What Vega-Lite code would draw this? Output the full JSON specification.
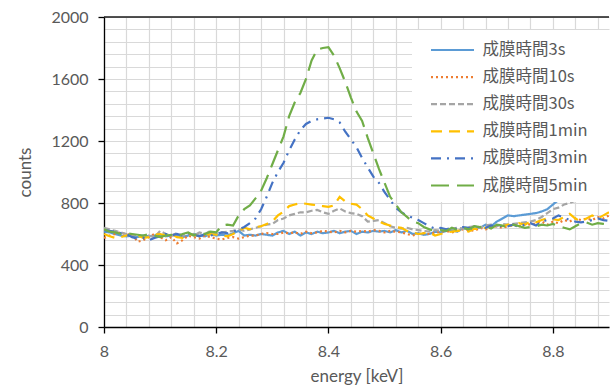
{
  "$schema": "https://vega.github.io/schema/vega-lite/v6.json",
  "width": 505,
  "height": 310,
  "autosize": {"type": "none"},
  "padding": {"left": 104, "top": 17, "right": 4, "bottom": 58},
  "background": "white",
  "config": {"view": {"stroke": null}, "font": "Lato"},
  "datasets": {
    "spectra": [
      {"e":8.00,"成膜時間3s":615,"成膜時間10s":575,"成膜時間30s":640,"成膜時間1min":600,"成膜時間3min":625,"成膜時間5min":630},
      {"e":8.01,"成膜時間3s":610,"成膜時間10s":590,"成膜時間30s":630,"成膜時間1min":585,"成膜時間3min":620,"成膜時間5min":615},
      {"e":8.02,"成膜時間3s":600,"成膜時間10s":600,"成膜時間30s":620,"成膜時間1min":575,"成膜時間3min":615,"成膜時間5min":610},
      {"e":8.03,"成膜時間3s":590,"成膜時間10s":610,"成膜時間30s":610,"成膜時間1min":580,"成膜時間3min":605,"成膜時間5min":600},
      {"e":8.04,"成膜時間3s":585,"成膜時間10s":595,"成膜時間30s":600,"成膜時間1min":590,"成膜時間3min":600,"成膜時間5min":605},
      {"e":8.05,"成膜時間3s":590,"成膜時間10s":600,"成膜時間30s":595,"成膜時間1min":600,"成膜時間3min":580,"成膜時間5min":600},
      {"e":8.06,"成膜時間3s":580,"成膜時間10s":550,"成膜時間30s":590,"成膜時間1min":590,"成膜時間3min":570,"成膜時間5min":595},
      {"e":8.07,"成膜時間3s":590,"成膜時間10s":560,"成膜時間30s":585,"成膜時間1min":575,"成膜時間3min":575,"成膜時間5min":590},
      {"e":8.08,"成膜時間3s":585,"成膜時間10s":580,"成膜時間30s":590,"成膜時間1min":580,"成膜時間3min":560,"成膜時間5min":600},
      {"e":8.09,"成膜時間3s":590,"成膜時間10s":600,"成膜時間30s":580,"成膜時間1min":595,"成膜時間3min":575,"成膜時間5min":590},
      {"e":8.10,"成膜時間3s":595,"成膜時間10s":580,"成膜時間30s":620,"成膜時間1min":600,"成膜時間3min":585,"成膜時間5min":580},
      {"e":8.11,"成膜時間3s":585,"成膜時間10s":560,"成膜時間30s":600,"成膜時間1min":590,"成膜時間3min":600,"成膜時間5min":590},
      {"e":8.12,"成膜時間3s":590,"成膜時間10s":580,"成膜時間30s":590,"成膜時間1min":600,"成膜時間3min":590,"成膜時間5min":595},
      {"e":8.13,"成膜時間3s":595,"成膜時間10s":540,"成膜時間30s":605,"成膜時間1min":580,"成膜時間3min":600,"成膜時間5min":585},
      {"e":8.14,"成膜時間3s":580,"成膜時間10s":560,"成膜時間30s":590,"成膜時間1min":575,"成膜時間3min":590,"成膜時間5min":600},
      {"e":8.15,"成膜時間3s":590,"成膜時間10s":590,"成膜時間30s":600,"成膜時間1min":600,"成膜時間3min":605,"成膜時間5min":610},
      {"e":8.16,"成膜時間3s":600,"成膜時間10s":580,"成膜時間30s":590,"成膜時間1min":595,"成膜時間3min":595,"成膜時間5min":590},
      {"e":8.17,"成膜時間3s":590,"成膜時間10s":570,"成膜時間30s":610,"成膜時間1min":585,"成膜時間3min":585,"成膜時間5min":610},
      {"e":8.18,"成膜時間3s":585,"成膜時間10s":590,"成膜時間30s":600,"成膜時間1min":595,"成膜時間3min":600,"成膜時間5min":600},
      {"e":8.19,"成膜時間3s":600,"成膜時間10s":580,"成膜時間30s":620,"成膜時間1min":600,"成膜時間3min":590,"成膜時間5min":615},
      {"e":8.20,"成膜時間3s":590,"成膜時間10s":570,"成膜時間30s":600,"成膜時間1min":595,"成膜時間3min":600,"成膜時間5min":610},
      {"e":8.21,"成膜時間3s":595,"成膜時間10s":565,"成膜時間30s":610,"成膜時間1min":590,"成膜時間3min":610,"成膜時間5min":655},
      {"e":8.22,"成膜時間3s":590,"成膜時間10s":575,"成膜時間30s":615,"成膜時間1min":585,"成膜時間3min":605,"成膜時間5min":660},
      {"e":8.23,"成膜時間3s":605,"成膜時間10s":580,"成膜時間30s":620,"成膜時間1min":600,"成膜時間3min":615,"成膜時間5min":655},
      {"e":8.24,"成膜時間3s":620,"成膜時間10s":570,"成膜時間30s":630,"成膜時間1min":620,"成膜時間3min":630,"成膜時間5min":720},
      {"e":8.25,"成膜時間3s":590,"成膜時間10s":580,"成膜時間30s":620,"成膜時間1min":640,"成膜時間3min":645,"成膜時間5min":760},
      {"e":8.26,"成膜時間3s":595,"成膜時間10s":590,"成膜時間30s":630,"成膜時間1min":630,"成膜時間3min":670,"成膜時間5min":785},
      {"e":8.27,"成膜時間3s":590,"成膜時間10s":590,"成膜時間30s":640,"成膜時間1min":645,"成膜時間3min":700,"成膜時間5min":830},
      {"e":8.28,"成膜時間3s":600,"成膜時間10s":600,"成膜時間30s":650,"成膜時間1min":650,"成膜時間3min":760,"成膜時間5min":880},
      {"e":8.29,"成膜時間3s":595,"成膜時間10s":605,"成膜時間30s":660,"成膜時間1min":665,"成膜時間3min":840,"成膜時間5min":960},
      {"e":8.30,"成膜時間3s":590,"成膜時間10s":600,"成膜時間30s":665,"成膜時間1min":680,"成膜時間3min":930,"成膜時間5min":1050},
      {"e":8.31,"成膜時間3s":610,"成膜時間10s":600,"成膜時間30s":690,"成膜時間1min":720,"成膜時間3min":1000,"成膜時間5min":1140},
      {"e":8.32,"成膜時間3s":620,"成膜時間10s":610,"成膜時間30s":700,"成膜時間1min":745,"成膜時間3min":1060,"成膜時間5min":1230},
      {"e":8.33,"成膜時間3s":600,"成膜時間10s":605,"成膜時間30s":720,"成膜時間1min":780,"成膜時間3min":1140,"成膜時間5min":1360},
      {"e":8.34,"成膜時間3s":615,"成膜時間10s":610,"成膜時間30s":730,"成膜時間1min":790,"成膜時間3min":1210,"成膜時間5min":1450},
      {"e":8.35,"成膜時間3s":590,"成膜時間10s":600,"成膜時間30s":740,"成膜時間1min":800,"成膜時間3min":1270,"成膜時間5min":1510},
      {"e":8.36,"成膜時間3s":610,"成膜時間10s":615,"成膜時間30s":740,"成膜時間1min":795,"成膜時間3min":1310,"成膜時間5min":1600},
      {"e":8.37,"成膜時間3s":600,"成膜時間10s":605,"成膜時間30s":750,"成膜時間1min":790,"成膜時間3min":1330,"成膜時間5min":1720},
      {"e":8.38,"成膜時間3s":615,"成膜時間10s":610,"成膜時間30s":755,"成膜時間1min":785,"成膜時間3min":1340,"成膜時間5min":1790},
      {"e":8.39,"成膜時間3s":605,"成膜時間10s":620,"成膜時間30s":740,"成膜時間1min":780,"成膜時間3min":1345,"成膜時間5min":1800},
      {"e":8.40,"成膜時間3s":610,"成膜時間10s":615,"成膜時間30s":730,"成膜時間1min":775,"成膜時間3min":1350,"成膜時間5min":1805},
      {"e":8.41,"成膜時間3s":620,"成膜時間10s":610,"成膜時間30s":750,"成膜時間1min":785,"成膜時間3min":1340,"成膜時間5min":1750},
      {"e":8.42,"成膜時間3s":605,"成膜時間10s":620,"成膜時間30s":765,"成膜時間1min":840,"成膜時間3min":1320,"成膜時間5min":1670},
      {"e":8.43,"成膜時間3s":615,"成膜時間10s":610,"成膜時間30s":745,"成膜時間1min":810,"成膜時間3min":1260,"成膜時間5min":1580},
      {"e":8.44,"成膜時間3s":620,"成膜時間10s":620,"成膜時間30s":735,"成膜時間1min":795,"成膜時間3min":1210,"成膜時間5min":1480},
      {"e":8.45,"成膜時間3s":600,"成膜時間10s":615,"成膜時間30s":730,"成膜時間1min":790,"成膜時間3min":1160,"成膜時間5min":1390},
      {"e":8.46,"成膜時間3s":615,"成膜時間10s":620,"成膜時間30s":715,"成膜時間1min":760,"成膜時間3min":1090,"成膜時間5min":1330},
      {"e":8.47,"成膜時間3s":610,"成膜時間10s":615,"成膜時間30s":680,"成膜時間1min":720,"成膜時間3min":1030,"成膜時間5min":1220},
      {"e":8.48,"成膜時間3s":620,"成膜時間10s":625,"成膜時間30s":685,"成膜時間1min":700,"成膜時間3min":970,"成膜時間5min":1120},
      {"e":8.49,"成膜時間3s":615,"成膜時間10s":620,"成膜時間30s":690,"成膜時間1min":680,"成膜時間3min":930,"成膜時間5min":1020},
      {"e":8.50,"成膜時間3s":620,"成膜時間10s":610,"成膜時間30s":670,"成膜時間1min":665,"成膜時間3min":870,"成膜時間5min":930},
      {"e":8.51,"成膜時間3s":610,"成膜時間10s":620,"成膜時間30s":650,"成膜時間1min":655,"成膜時間3min":820,"成膜時間5min":840},
      {"e":8.52,"成膜時間3s":625,"成膜時間10s":615,"成膜時間30s":640,"成膜時間1min":645,"成膜時間3min":770,"成膜時間5min":790},
      {"e":8.53,"成膜時間3s":610,"成膜時間10s":610,"成膜時間30s":635,"成膜時間1min":640,"成膜時間3min":740,"成膜時間5min":740},
      {"e":8.54,"成膜時間3s":620,"成膜時間10s":600,"成膜時間30s":640,"成膜時間1min":620,"成膜時間3min":720,"成膜時間5min":710},
      {"e":8.55,"成膜時間3s":600,"成膜時間10s":590,"成膜時間30s":630,"成膜時間1min":610,"成膜時間3min":705,"成膜時間5min":680},
      {"e":8.56,"成膜時間3s":605,"成膜時間10s":600,"成膜時間30s":625,"成膜時間1min":600,"成膜時間3min":690,"成膜時間5min":670},
      {"e":8.57,"成膜時間3s":595,"成膜時間10s":605,"成膜時間30s":620,"成膜時間1min":605,"成膜時間3min":670,"成膜時間5min":645},
      {"e":8.58,"成膜時間3s":600,"成膜時間10s":600,"成膜時間30s":615,"成膜時間1min":610,"成膜時間3min":650,"成膜時間5min":630},
      {"e":8.59,"成膜時間3s":615,"成膜時間10s":610,"成膜時間30s":625,"成膜時間1min":590,"成膜時間3min":635,"成膜時間5min":620},
      {"e":8.60,"成膜時間3s":610,"成膜時間10s":615,"成膜時間30s":620,"成膜時間1min":600,"成膜時間3min":640,"成膜時間5min":625},
      {"e":8.61,"成膜時間3s":620,"成膜時間10s":620,"成膜時間30s":630,"成膜時間1min":610,"成膜時間3min":630,"成膜時間5min":620},
      {"e":8.62,"成膜時間3s":625,"成膜時間10s":610,"成膜時間30s":635,"成膜時間1min":615,"成膜時間3min":640,"成膜時間5min":640},
      {"e":8.63,"成膜時間3s":615,"成膜時間10s":620,"成膜時間30s":640,"成膜時間1min":620,"成膜時間3min":630,"成膜時間5min":625},
      {"e":8.64,"成膜時間3s":640,"成膜時間10s":630,"成膜時間30s":635,"成膜時間1min":625,"成膜時間3min":645,"成膜時間5min":640},
      {"e":8.65,"成膜時間3s":630,"成膜時間10s":625,"成膜時間30s":645,"成膜時間1min":615,"成膜時間3min":640,"成膜時間5min":630},
      {"e":8.66,"成膜時間3s":650,"成膜時間10s":620,"成膜時間30s":650,"成膜時間1min":635,"成膜時間3min":630,"成膜時間5min":650},
      {"e":8.67,"成膜時間3s":640,"成膜時間10s":640,"成膜時間30s":640,"成膜時間1min":630,"成膜時間3min":650,"成膜時間5min":645},
      {"e":8.68,"成膜時間3s":660,"成膜時間10s":630,"成膜時間30s":655,"成膜時間1min":640,"成膜時間3min":640,"成膜時間5min":650},
      {"e":8.69,"成膜時間3s":650,"成膜時間10s":640,"成膜時間30s":660,"成膜時間1min":650,"成膜時間3min":655,"成膜時間5min":635},
      {"e":8.70,"成膜時間3s":680,"成膜時間10s":650,"成膜時間30s":650,"成膜時間1min":645,"成膜時間3min":640,"成膜時間5min":660},
      {"e":8.71,"成膜時間3s":700,"成膜時間10s":640,"成膜時間30s":665,"成膜時間1min":650,"成膜時間3min":655,"成膜時間5min":655},
      {"e":8.72,"成膜時間3s":720,"成膜時間10s":650,"成膜時間30s":660,"成膜時間1min":660,"成膜時間3min":650,"成膜時間5min":640},
      {"e":8.73,"成膜時間3s":715,"成膜時間10s":660,"成膜時間30s":665,"成膜時間1min":650,"成膜時間3min":660,"成膜時間5min":660},
      {"e":8.74,"成膜時間3s":720,"成膜時間10s":650,"成膜時間30s":670,"成膜時間1min":670,"成膜時間3min":645,"成膜時間5min":650},
      {"e":8.75,"成膜時間3s":725,"成膜時間10s":670,"成膜時間30s":675,"成膜時間1min":660,"成膜時間3min":660,"成膜時間5min":640},
      {"e":8.76,"成膜時間3s":730,"成膜時間10s":660,"成膜時間30s":680,"成膜時間1min":680,"成膜時間3min":670,"成膜時間5min":645},
      {"e":8.77,"成膜時間3s":735,"成膜時間10s":670,"成膜時間30s":690,"成膜時間1min":675,"成膜時間3min":655,"成膜時間5min":650},
      {"e":8.78,"成膜時間3s":745,"成膜時間10s":680,"成膜時間30s":710,"成膜時間1min":690,"成膜時間3min":680,"成膜時間5min":660},
      {"e":8.79,"成膜時間3s":760,"成膜時間10s":660,"成膜時間30s":735,"成膜時間1min":700,"成膜時間3min":690,"成膜時間5min":655},
      {"e":8.80,"成膜時間3s":790,"成膜時間10s":680,"成膜時間30s":760,"成膜時間1min":695,"成膜時間3min":700,"成膜時間5min":665},
      {"e":8.81,"成膜時間3s":820,"成膜時間10s":670,"成膜時間30s":770,"成膜時間1min":690,"成膜時間3min":720,"成膜時間5min":650},
      {"e":8.82,"成膜時間3s":860,"成膜時間10s":690,"成膜時間30s":790,"成膜時間1min":710,"成膜時間3min":705,"成膜時間5min":640},
      {"e":8.83,"成膜時間3s":900,"成膜時間10s":680,"成膜時間30s":800,"成膜時間1min":730,"成膜時間3min":690,"成膜時間5min":630},
      {"e":8.84,"成膜時間3s":950,"成膜時間10s":700,"成膜時間30s":815,"成膜時間1min":700,"成膜時間3min":680,"成膜時間5min":650},
      {"e":8.85,"成膜時間3s":1000,"成膜時間10s":690,"成膜時間30s":830,"成膜時間1min":680,"成膜時間3min":675,"成膜時間5min":670},
      {"e":8.86,"成膜時間3s":1040,"成膜時間10s":700,"成膜時間30s":840,"成膜時間1min":700,"成膜時間3min":680,"成膜時間5min":675},
      {"e":8.87,"成膜時間3s":1080,"成膜時間10s":690,"成膜時間30s":850,"成膜時間1min":720,"成膜時間3min":690,"成膜時間5min":660},
      {"e":8.88,"成膜時間3s":1110,"成膜時間10s":710,"成膜時間30s":855,"成膜時間1min":700,"成膜時間3min":700,"成膜時間5min":670},
      {"e":8.89,"成膜時間3s":1130,"成膜時間10s":700,"成膜時間30s":865,"成膜時間1min":720,"成膜時間3min":690,"成膜時間5min":665},
      {"e":8.90,"成膜時間3s":1150,"成膜時間10s":720,"成膜時間30s":870,"成膜時間1min":740,"成膜時間3min":685,"成膜時間5min":660}
    ],
    "top": [{"c": 2000}]
  },
  "layer": [
    {
      "data": {"name": "spectra"},
      "transform": [
        {"fold": ["成膜時間3s","成膜時間10s","成膜時間30s","成膜時間1min","成膜時間3min","成膜時間5min"], "as": ["series","counts"]}
      ],
      "mark": {"type": "line", "strokeWidth": 2.2, "clip": true},
      "encoding": {
        "x": {
          "field": "e", "type": "quantitative",
          "scale": {"domain": [8, 8.9], "nice": false, "zero": false},
          "axis": {
            "values": [8,8.04,8.08,8.12,8.16,8.2,8.24,8.28,8.32,8.36,8.4,8.44,8.48,8.52,8.56,8.6,8.64,8.68,8.72,8.76,8.8,8.84,8.88],
            "grid": true, "gridColor": "#d9d9d9", "gridWidth": 1.2,
            "domainColor": "#000000", "domainWidth": 1.3,
            "tickColor": "#000000", "tickSize": 6, "tickWidth": 1.3,
            "tickOpacity": {"condition": {"test": "abs(datum.value*5 - round(datum.value*5)) < 0.001", "value": 1}, "value": 0},
            "labelExpr": "abs(datum.value*5 - round(datum.value*5)) < 0.001 ? format(datum.value, '.1~f') : ''",
            "labelOverlap": false, "labelFlush": false, "labelBound": false,
            "labelFont": "Lato", "labelFontSize": 16, "labelColor": "#595959", "labelPadding": 10,
            "title": "energy [keV]", "titleFont": "Lato", "titleFontSize": 17, "titleFontWeight": "normal", "titleColor": "#595959", "titlePadding": 9
          }
        },
        "y": {
          "field": "counts", "type": "quantitative",
          "scale": {"domain": [0, 2000], "nice": false},
          "axis": {
            "values": [0,80,160,240,320,400,480,560,640,720,800,880,960,1040,1120,1200,1280,1360,1440,1520,1600,1680,1760,1840,1920,2000],
            "grid": true, "gridColor": "#d9d9d9", "gridWidth": 1.2,
            "domainColor": "#000000", "domainWidth": 1.3,
            "tickColor": "#000000", "tickSize": 6, "tickWidth": 1.3,
            "tickOpacity": {"condition": {"test": "abs(datum.value/400 - round(datum.value/400)) < 0.001", "value": 1}, "value": 0},
            "labelExpr": "abs(datum.value/400 - round(datum.value/400)) < 0.001 ? format(datum.value, 'd') : ''",
            "labelOverlap": false, "labelBound": false,
            "labelFont": "Lato", "labelFontSize": 16, "labelColor": "#595959", "labelPadding": 10,
            "title": "counts", "titleFont": "Lato", "titleFontSize": 17, "titleFontWeight": "normal", "titleColor": "#595959", "titlePadding": 16
          }
        },
        "color": {
          "field": "series", "type": "nominal",
          "scale": {
            "domain": ["成膜時間3s","成膜時間10s","成膜時間30s","成膜時間1min","成膜時間3min","成膜時間5min"],
            "range": ["#5B9BD5","#ED7D31","#A5A5A5","#FFC000","#4472C4","#70AD47"]
          },
          "legend": {
            "title": null, "orient": "none", "legendX": 308, "legendY": 13,
            "fillColor": "white", "padding": 8, "symbolOffset": 20.5,
            "symbolType": "M-2,0H2M13.6,0", "symbolSize": 462.25, "symbolStrokeWidth": 2.2,
            "labelFont": "Noto Sans CJK JP", "labelFontSize": 16.5, "labelColor": "#595959",
            "labelOffset": 18, "rowPadding": 6.1
          }
        },
        "strokeDash": {
          "field": "series", "type": "nominal",
          "scale": {
            "domain": ["成膜時間3s","成膜時間10s","成膜時間30s","成膜時間1min","成膜時間3min","成膜時間5min"],
            "range": [[1,0],[2,3],[6,3],[11,7],[10,6,2,6],[18,8]]
          },
          "legend": {
            "title": null, "orient": "none", "legendX": 308, "legendY": 13,
            "fillColor": "white", "padding": 8, "symbolOffset": 20.5,
            "symbolType": "M-2,0H2M13.6,0", "symbolSize": 462.25, "symbolStrokeWidth": 2.2,
            "labelFont": "Noto Sans CJK JP", "labelFontSize": 16.5, "labelColor": "#595959",
            "labelOffset": 18, "rowPadding": 6.1
          }
        }
      }
    },
    {
      "data": {"name": "top"},
      "mark": {"type": "rule", "color": "#1a1a1a", "strokeWidth": 1.3},
      "encoding": {
        "y": {
          "field": "c", "type": "quantitative",
          "axis": {
            "values": [0,80,160,240,320,400,480,560,640,720,800,880,960,1040,1120,1200,1280,1360,1440,1520,1600,1680,1760,1840,1920,2000],
            "grid": true, "gridColor": "#d9d9d9", "gridWidth": 1.2,
            "domainColor": "#000000", "domainWidth": 1.3,
            "tickColor": "#000000", "tickSize": 6, "tickWidth": 1.3,
            "tickOpacity": {"condition": {"test": "abs(datum.value/400 - round(datum.value/400)) < 0.001", "value": 1}, "value": 0},
            "labelExpr": "abs(datum.value/400 - round(datum.value/400)) < 0.001 ? format(datum.value, 'd') : ''",
            "labelOverlap": false, "labelBound": false,
            "labelFont": "Lato", "labelFontSize": 16, "labelColor": "#595959", "labelPadding": 10,
            "title": "counts", "titleFont": "Lato", "titleFontSize": 17, "titleFontWeight": "normal", "titleColor": "#595959", "titlePadding": 16
          }
        }
      }
    }
  ]
}
